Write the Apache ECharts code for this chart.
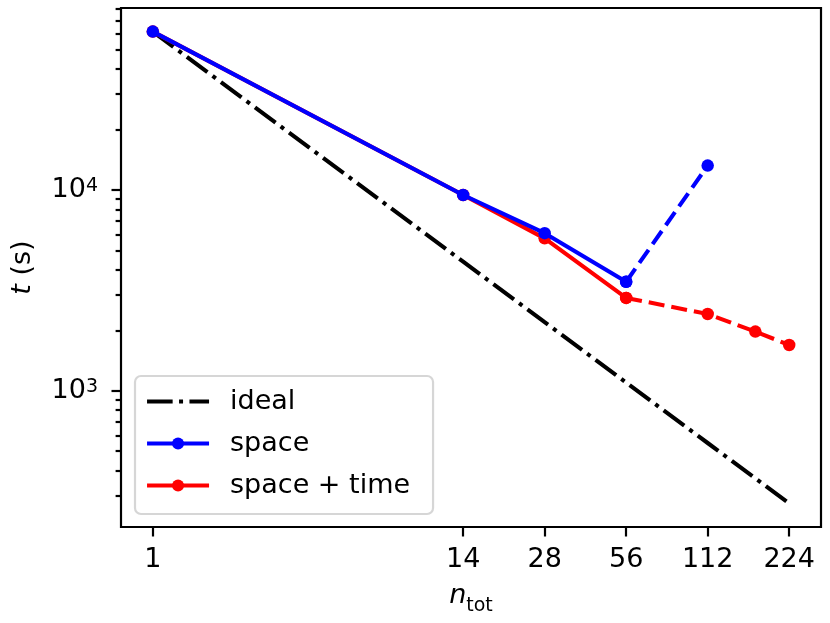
<!DOCTYPE html>
<html><head><meta charset="utf-8">
<script src="https://cdn.jsdelivr.net/npm/echarts@6/dist/echarts.min.js"></script>
<style>html,body{margin:0;padding:0;background:#fff}#c{width:830px;height:623px}</style>
</head><body><div id="c"></div>
<script>
// ---- data (raw values, log-log plot) ----
const xTicks = [1, 14, 28, 56, 112, 224];
const yMajorTicks = [1000, 10000];
const yMinorTicks = [300, 400, 500, 600, 700, 800, 900, 2000, 3000, 4000, 5000, 6000, 7000, 8000, 9000, 20000, 30000, 40000, 50000, 60000, 70000, 80000];
const idealN = [1, 14, 28, 56, 112, 224];
const idealT = [61500, 4393, 2196, 1098, 549, 274.6];
const spaceN = [1, 14, 28, 56];
const spaceT = [61500, 9440, 6090, 3490];
const spaceDashN = [56, 112];
const spaceDashT = [3490, 13220];
const stN = [1, 14, 28, 56];
const stT = [61500, 9440, 5740, 2900];
const stDashN = [56, 112, 168, 224];
const stDashT = [2900, 2410, 1970, 1690];
const xRange = [0.763, 293.6];
const yRange = [209.5, 80600];

const L = Math.log10;
const pts = (xs, ys) => xs.map((x, i) => [L(x), L(ys[i])]);
const FONT = 'DejaVu Sans';
const BLUE = '#0000ff', RED = '#ff0000';
const LW = 4.1, MS = 12.5;
const DASH = [16, 7];
const DASHDOT = [25.6, 6.4, 4, 6.4];

const chart = echarts.init(document.getElementById('c'), null, {renderer: 'canvas'});

const yBase = {
  type: 'value', position: 'left',
  min: L(yRange[0]), max: L(yRange[1]),
  splitLine: {show: false},
  axisLine: {show: false, onZero: false}
};

chart.setOption({
  animation: false,
  backgroundColor: '#fff',
  textStyle: {fontFamily: FONT},
  grid: {left: 121, right: 9, top: 8, bottom: 96, show: true, borderColor: '#000', borderWidth: 2.2, backgroundColor: 'transparent'},
  legend: {
    left: 135, top: 376, orient: 'vertical',
    data: [
      {name: 'ideal', itemStyle: {opacity: 0}, lineStyle: {type: DASHDOT, color: '#000'}},
      {name: 'space'},
      {name: 'space + time'}
    ],
    itemWidth: 62, itemHeight: 15, itemGap: 15,
    padding: [12, 23, 15, 10],
    borderColor: '#d6d6d6', borderWidth: 2.2, borderRadius: 6,
    backgroundColor: '#fff',
    lineStyle: {width: LW},
    textStyle: {fontFamily: FONT, fontSize: 27, color: '#000', padding: [0, 0, 0, 16]}
  },
  xAxis: {
    type: 'value', min: L(xRange[0]), max: L(xRange[1]),
    splitLine: {show: false},
    axisLine: {show: false, onZero: false},
    axisTick: {show: true, customValues: xTicks.map(L), length: 9.5, lineStyle: {color: '#000', width: 2.2}},
    axisLabel: {
      customValues: xTicks.map(L), margin: 19,
      fontFamily: FONT, fontSize: 27, color: '#000',
      formatter: v => String(Math.round(Math.pow(10, v)))
    },
    name: '{n|n}{t|tot}', nameLocation: 'middle', nameGap: 55,
    nameTextStyle: {
      rich: {
        n: {fontFamily: FONT, fontSize: 27, fontStyle: 'italic', color: '#000', lineHeight: 34, verticalAlign: 'top'},
        t: {fontFamily: FONT, fontSize: 19, color: '#000', lineHeight: 22, verticalAlign: 'bottom'}
      }
    }
  },
  yAxis: [
    Object.assign({}, yBase, {
      axisTick: {show: true, customValues: yMajorTicks.map(L), length: 9.5, lineStyle: {color: '#000', width: 2.2}},
      axisLabel: {
        customValues: yMajorTicks.map(L), margin: 23,
        formatter: v => '{b|10}{s|' + Math.round(v) + '}',
        rich: {
          b: {fontFamily: FONT, fontSize: 27, color: '#000', lineHeight: 27, verticalAlign: 'bottom'},
          s: {fontFamily: FONT, fontSize: 19, color: '#000', lineHeight: 19, verticalAlign: 'top'}
        }
      },
      name: '{i|t} (s)', nameLocation: 'middle', nameGap: 85,
      nameTextStyle: {
        fontFamily: FONT, fontSize: 27, color: '#000',
        rich: {i: {fontFamily: FONT, fontSize: 27, fontStyle: 'italic', color: '#000'}}
      }
    }),
    Object.assign({}, yBase, {
      axisTick: {show: true, customValues: yMinorTicks.map(L), length: 5.4, lineStyle: {color: '#000', width: 2.2}},
      axisLabel: {show: false}
    })
  ],
  series: [
    {name: 'ideal', type: 'line', data: pts(idealN, idealT), symbol: 'none',
     lineStyle: {color: '#000', width: LW, type: DASHDOT}, itemStyle: {color: '#000'}, z: 2},
    {name: 'space + time', type: 'line', data: pts(stN, stT), symbol: 'circle', symbolSize: MS,
     lineStyle: {color: RED, width: LW}, itemStyle: {color: RED}, z: 3},
    {name: 'space + time (dashed)', type: 'line', data: pts(stDashN, stDashT), symbol: 'circle', symbolSize: MS,
     lineStyle: {color: RED, width: LW, type: DASH}, itemStyle: {color: RED}, z: 3},
    {name: 'space', type: 'line', data: pts(spaceN, spaceT), symbol: 'circle', symbolSize: MS,
     lineStyle: {color: BLUE, width: LW}, itemStyle: {color: BLUE}, z: 4},
    {name: 'space (dashed)', type: 'line', data: pts(spaceDashN, spaceDashT), symbol: 'circle', symbolSize: MS,
     lineStyle: {color: BLUE, width: LW, type: DASH}, itemStyle: {color: BLUE}, z: 4}
  ]
});
</script>
</body></html>
